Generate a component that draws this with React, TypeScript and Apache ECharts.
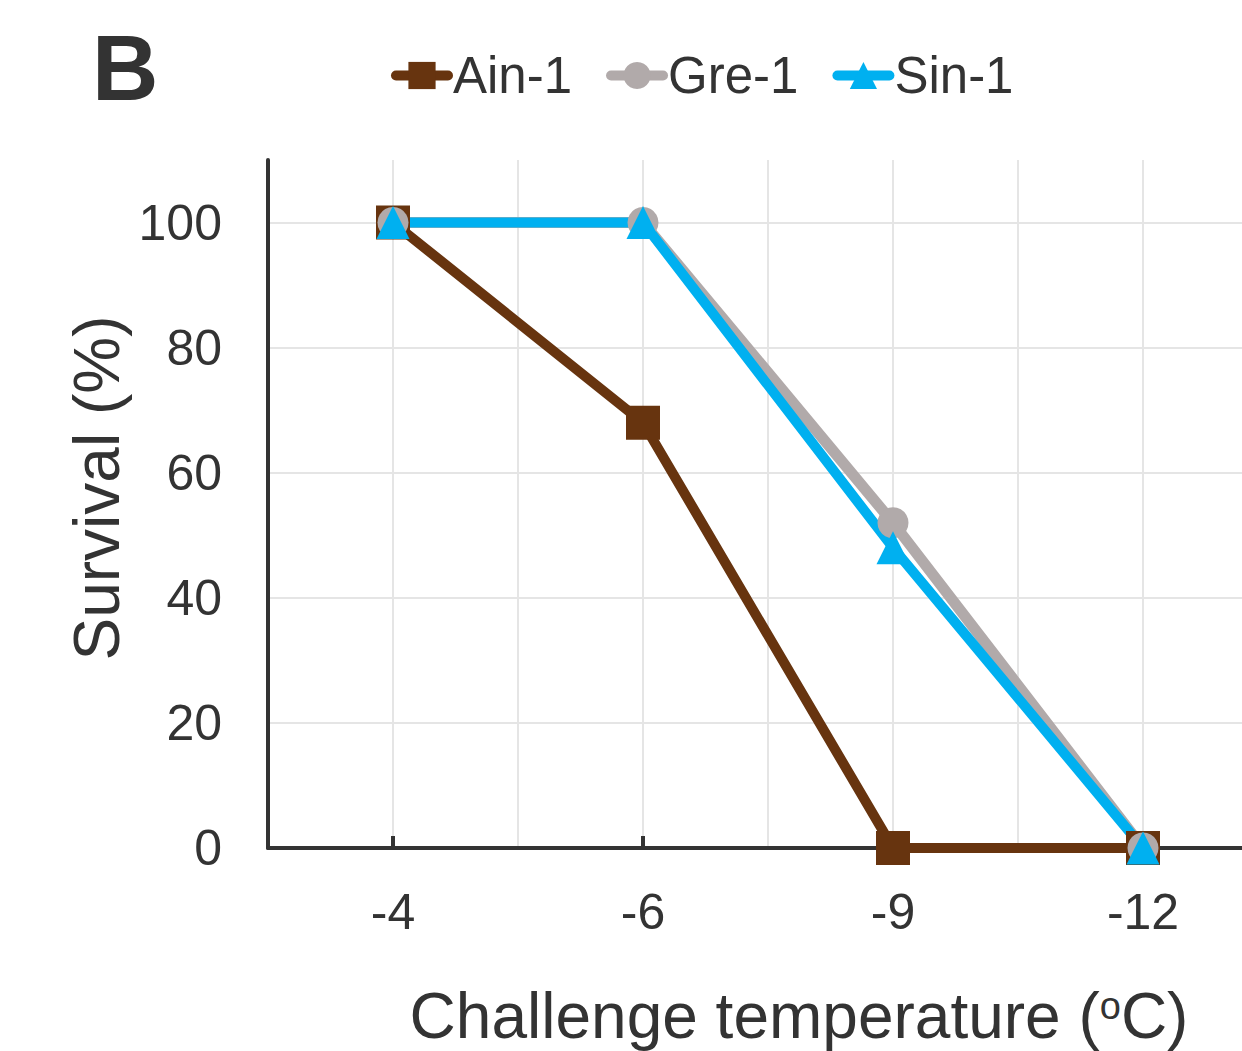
import React, { useEffect, useRef } from "react";
import * as echarts from "echarts";

const categories = ["-4", "-6", "-9", "-12"];
const ain1 = [100, 68, 0, 0];
const gre1 = [100, 100, 52, 0];
const sin1 = [100, 100, 48, 0];
const yTicks = [0, 20, 40, 60, 80, 100];

const FONT = "'Liberation Sans', Arial, sans-serif";
const TEXT = "#333333";

export default function App() {
  const ref = useRef<HTMLDivElement>(null);
  useEffect(() => {
    if (!ref.current) return;
    const chart = echarts.init(ref.current, null, { renderer: "svg" });
    const toPairs = (arr: number[]) => arr.map((v, i) => [i, v]);
    const option: any = {
      animation: false,
      backgroundColor: "#ffffff",
      textStyle: { fontFamily: FONT },
      grid: { left: 268, top: 160, right: 0, bottom: 203, containLabel: false },
      legend: {
        left: 386,
        top: 45,
        itemWidth: 52,
        itemHeight: 34,
        itemGap: 34,
        lineStyle: { width: 10, cap: "round" },
        textStyle: { fontSize: 51, color: TEXT, fontFamily: FONT, padding: [0, 0, 0, 0] },
        data: ["Ain-1", "Gre-1", "Sin-1"],
      },
      xAxis: [
        {
          type: "value",
          min: -0.5,
          max: 3.396,
          interval: 1,
          axisLine: { show: true, onZero: false, lineStyle: { color: TEXT, width: 4 } },
          axisTick: {
            show: true,
            inside: true,
            length: 12,
            lineStyle: { color: TEXT, width: 4 },
            customValues: [0, 1, 2, 3],
          },
          axisLabel: {
            customValues: [0, 1, 2, 3],
            formatter: (v: number) => categories[Math.round(v)] ?? "",
            fontSize: 50,
            color: TEXT,
            fontFamily: FONT,
            margin: 39,
          },
          splitLine: { show: false },
        },
        {
          type: "value",
          min: -0.5,
          max: 3.396,
          interval: 0.5,
          position: "bottom",
          axisLine: { show: false, onZero: false },
          axisTick: { show: false },
          axisLabel: { show: false },
          splitLine: {
            show: true,
            showMinLine: false,
            showMaxLine: false,
            lineStyle: { color: "#e5e5e5", width: 2 },
          },
        },
      ],
      yAxis: {
        type: "value",
        min: 0,
        max: 110,
        interval: 20,
        axisLine: { show: true, onZero: false, lineStyle: { color: TEXT, width: 4 } },
        axisTick: { show: false },
        axisLabel: {
          customValues: yTicks,
          fontSize: 50,
          color: TEXT,
          fontFamily: FONT,
          margin: 46,
        },
        splitLine: {
          show: true,
          showMinLine: false,
          showMaxLine: false,
          lineStyle: { color: "#e5e5e5", width: 2 },
        },
      },
      series: [
        {
          name: "Ain-1",
          type: "line",
          data: toPairs(ain1),
          symbol: "rect",
          symbolSize: 34,
          lineStyle: { color: "#67340f", width: 10 },
          itemStyle: { color: "#67340f" },
        },
        {
          name: "Gre-1",
          type: "line",
          data: toPairs(gre1),
          symbol: "circle",
          symbolSize: 31,
          lineStyle: { color: "#b1aaaa", width: 11 },
          itemStyle: { color: "#b1aaaa" },
        },
        {
          name: "Sin-1",
          type: "line",
          data: toPairs(sin1),
          symbol: "triangle",
          symbolSize: 33,
          lineStyle: { color: "#00b0f0", width: 10 },
          itemStyle: { color: "#00b0f0" },
        },
      ],
      graphic: [
        {
          type: "text",
          left: 92,
          top: 22,
          style: {
            text: "B",
            font: `bold 92px ${FONT}`,
            fill: TEXT,
          },
        },
        {
          type: "text",
          x: 97,
          y: 488,
          rotation: Math.PI / 2,
          style: {
            text: "Survival (%)",
            font: `64px ${FONT}`,
            fill: TEXT,
            align: "center",
            verticalAlign: "middle",
          },
        },
        {
          type: "text",
          x: 799,
          y: 1016,
          style: {
            text: "{a|Challenge temperature (}{b|o}{a|C)}",
            align: "center",
            verticalAlign: "middle",
            fill: TEXT,
            rich: {
              a: { fontSize: 64, lineHeight: 58, fontFamily: FONT, fill: TEXT, color: TEXT },
              b: {
                fontSize: 38,
                lineHeight: 38,
                fontFamily: FONT,
                fill: TEXT,
                color: TEXT,
                verticalAlign: "top",
                padding: [0, 0, 20, 0],
              },
            },
          },
        },
      ],
    };
    chart.setOption(option);
    return () => chart.dispose();
  }, []);
  return (
    <div
      ref={ref}
      style={{ position: "fixed", left: 0, top: 0, width: 1242, height: 1051 }}
    />
  );
}
